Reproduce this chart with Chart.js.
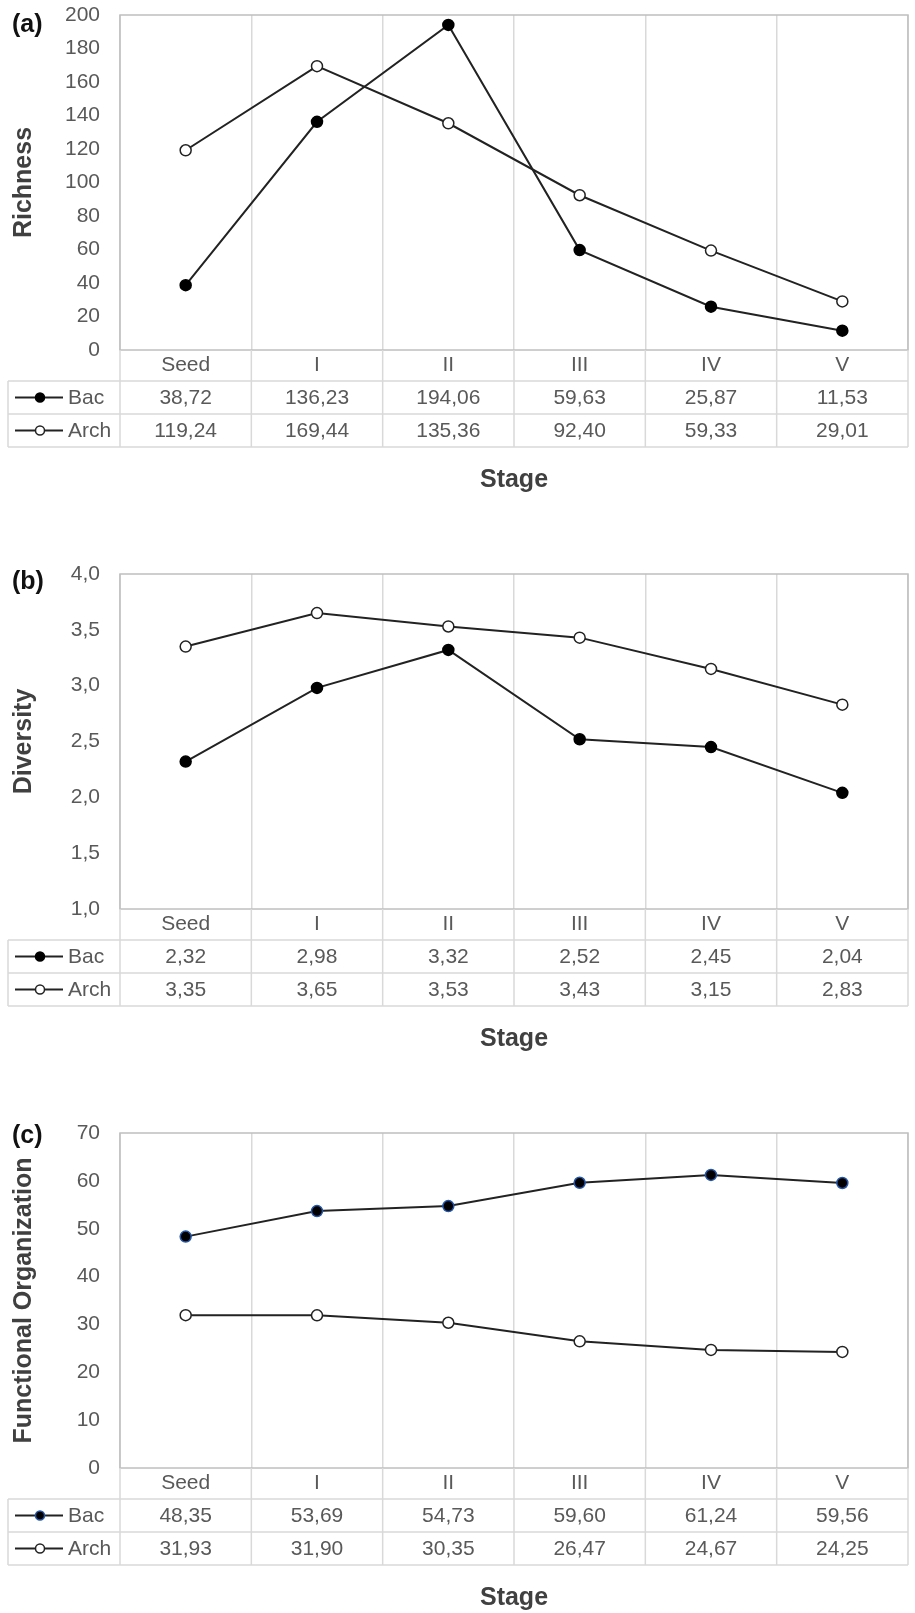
<!DOCTYPE html>
<html lang="en">
<head>
<meta charset="UTF-8">
<title>Richness, Diversity and Functional Organization by Stage</title>
<script src="https://cdn.jsdelivr.net/npm/chart.js@4.4.0/dist/chart.umd.min.js"></script>
<style>
  body { margin: 0; background: #fff; overflow: hidden; }
  .panel { position: absolute; left: 0; }
</style>
</head>
<body>
<canvas id="chartA" class="panel" width="915" height="495" style="top:0px"></canvas>
<canvas id="chartB" class="panel" width="915" height="495" style="top:559px"></canvas>
<canvas id="chartC" class="panel" width="915" height="495" style="top:1118px"></canvas>

<script>
// --- Data ---
const stages = ['Seed', 'I', 'II', 'III', 'IV', 'V'];
const seriesNames = ['Bac', 'Arch'];

const richnessBac  = [38.72, 136.23, 194.06, 59.63, 25.87, 11.53];
const richnessArch = [119.24, 169.44, 135.36, 92.40, 59.33, 29.01];

const diversityBac  = [2.32, 2.98, 3.32, 2.52, 2.45, 2.04];
const diversityArch = [3.35, 3.65, 3.53, 3.43, 3.15, 2.83];

const functionalBac  = [48.35, 53.69, 54.73, 59.60, 61.24, 59.56];
const functionalArch = [31.93, 31.90, 30.35, 26.47, 24.67, 24.25];

// y axis: [min, max, step]
const richnessTicks   = [0, 200, 20];
const diversityTicks  = [1, 4, 0.5];
const functionalTicks = [0, 70, 10];

const FONT = '"Liberation Sans", Arial, sans-serif';
const GREY_TEXT = '#595959';
const TITLE_TEXT = '#404040';

// comma as decimal separator
function fmt(v, d) {
  return v.toFixed(d).replace('.', ',');
}

// --- Plugin: plot frame, data table under the axis and panel letter ---
const tablePlugin = {
  id: 'dataTable',
  beforeDatasetsDraw(chart) {
    const { ctx, chartArea: a } = chart;
    ctx.save();
    ctx.strokeStyle = '#bfbfbf';
    ctx.lineWidth = 1.5;
    ctx.strokeRect(a.left, a.top, a.right - a.left, a.bottom - a.top);
    ctx.restore();
  },
  afterDraw(chart, args, opts) {
    const { ctx, chartArea: a } = chart;
    const x = chart.scales.x;
    const n = stages.length;
    const datasets = chart.data.datasets;
    const half = (x.getPixelForValue(1) - x.getPixelForValue(0)) / 2;
    const headH = 31, rowH = 33, tableLeft = 8;
    const top = a.bottom;
    const r1 = top + headH;
    const bottom = r1 + rowH * datasets.length;

    ctx.save();
    ctx.strokeStyle = '#d9d9d9';
    ctx.lineWidth = 1.5;
    ctx.beginPath();
    for (let i = 0; i <= n; i++) {
      const px = i < n ? x.getPixelForValue(i) - half : x.getPixelForValue(n - 1) + half;
      ctx.moveTo(px, top);
      ctx.lineTo(px, bottom);
    }
    ctx.moveTo(tableLeft, r1);
    ctx.lineTo(tableLeft, bottom);
    for (let j = 0; j <= datasets.length; j++) {
      const py = r1 + rowH * j;
      ctx.moveTo(tableLeft, py);
      ctx.lineTo(a.right, py);
    }
    ctx.stroke();

    datasets.forEach((ds, j) => {
      const cy = r1 + rowH * j + rowH / 2;
      // legend key
      ctx.strokeStyle = ds.borderColor;
      ctx.lineWidth = ds.borderWidth;
      ctx.beginPath();
      ctx.moveTo(15, cy);
      ctx.lineTo(63, cy);
      ctx.stroke();
      ctx.beginPath();
      ctx.arc(40, cy, 4.5, 0, Math.PI * 2);
      ctx.fillStyle = ds.pointBackgroundColor;
      ctx.fill();
      ctx.lineWidth = ds.pointBorderWidth;
      ctx.strokeStyle = ds.pointBorderColor;
      ctx.stroke();

      ctx.fillStyle = GREY_TEXT;
      ctx.font = '21px ' + FONT;
      ctx.textBaseline = 'middle';
      ctx.textAlign = 'left';
      ctx.fillText(ds.label, 68, cy + 1);

      ctx.textAlign = 'center';
      ds.data.forEach((v, i) => {
        ctx.fillText(fmt(v, 2), x.getPixelForValue(i), cy + 1);
      });
    });

    // panel letter
    ctx.fillStyle = '#111';
    ctx.font = 'bold 25px ' + FONT;
    ctx.textAlign = 'left';
    ctx.textBaseline = 'middle';
    ctx.fillText(opts.letter, 12, opts.letterY);
    ctx.restore();
  }
};

function makePanel(id, letter, letterY, yTitle, yTicks, decimals, bac, arch, bacEdge) {
  const ctx = document.getElementById(id).getContext('2d');
  return new Chart(ctx, {
    type: 'line',
    data: {
      labels: stages,
      datasets: [
        {
          label: seriesNames[0],
          data: bac,
          borderColor: '#222',
          borderWidth: 2,
          pointRadius: 5.5,
          pointBorderWidth: 1.5,
          pointBackgroundColor: '#000',
          pointBorderColor: bacEdge,
          clip: false
        },
        {
          label: seriesNames[1],
          data: arch,
          borderColor: '#222',
          borderWidth: 2,
          pointRadius: 5.5,
          pointBorderWidth: 1.5,
          pointBackgroundColor: '#fff',
          pointBorderColor: '#222',
          clip: false
        }
      ]
    },
    options: {
      responsive: false,
      devicePixelRatio: 1,
      animation: false,
      layout: { padding: { top: 15, right: 3, bottom: 0, left: 0 } },
      plugins: {
        legend: { display: false },
        tooltip: { enabled: false },
        dataTable: { letter: letter, letterY: letterY }
      },
      scales: {
        x: {
          offset: true,
          grid: { offset: true, color: '#d9d9d9', lineWidth: 1.5, drawTicks: false },
          border: { display: false },
          ticks: { color: GREY_TEXT, font: { family: FONT, size: 21 }, padding: 3, maxRotation: 0 },
          title: {
            display: true,
            text: 'Stage',
            color: TITLE_TEXT,
            font: { family: FONT, size: 25, weight: 'bold' },
            padding: { top: 0, bottom: 0 }
          },
          afterFit: (scale) => { scale.height = 145; }
        },
        y: {
          min: yTicks[0],
          max: yTicks[1],
          grid: { display: false, drawTicks: false },
          border: { display: false },
          ticks: {
            stepSize: yTicks[2],
            color: GREY_TEXT,
            font: { family: FONT, size: 21 },
            padding: 20,
            callback: (v) => fmt(v, decimals)
          },
          title: {
            display: true,
            text: yTitle,
            color: TITLE_TEXT,
            font: { family: FONT, size: 25, weight: 'bold' },
            padding: { top: 9, bottom: 0 }
          },
          afterFit: (scale) => {
            scale.width = 120;
            // tick padding should not push the plot down
            scale.paddingTop = 0;
            scale.paddingBottom = 0;
          }
        }
      }
    },
    plugins: [tablePlugin]
  });
}

makePanel('chartA', '(a)', 25, 'Richness', richnessTicks, 0, richnessBac, richnessArch, '#000');
makePanel('chartB', '(b)', 23, 'Diversity', diversityTicks, 1, diversityBac, diversityArch, '#000');
makePanel('chartC', '(c)', 18, 'Functional Organization', functionalTicks, 0, functionalBac, functionalArch, '#2456a8');
</script>
</body>
</html>
